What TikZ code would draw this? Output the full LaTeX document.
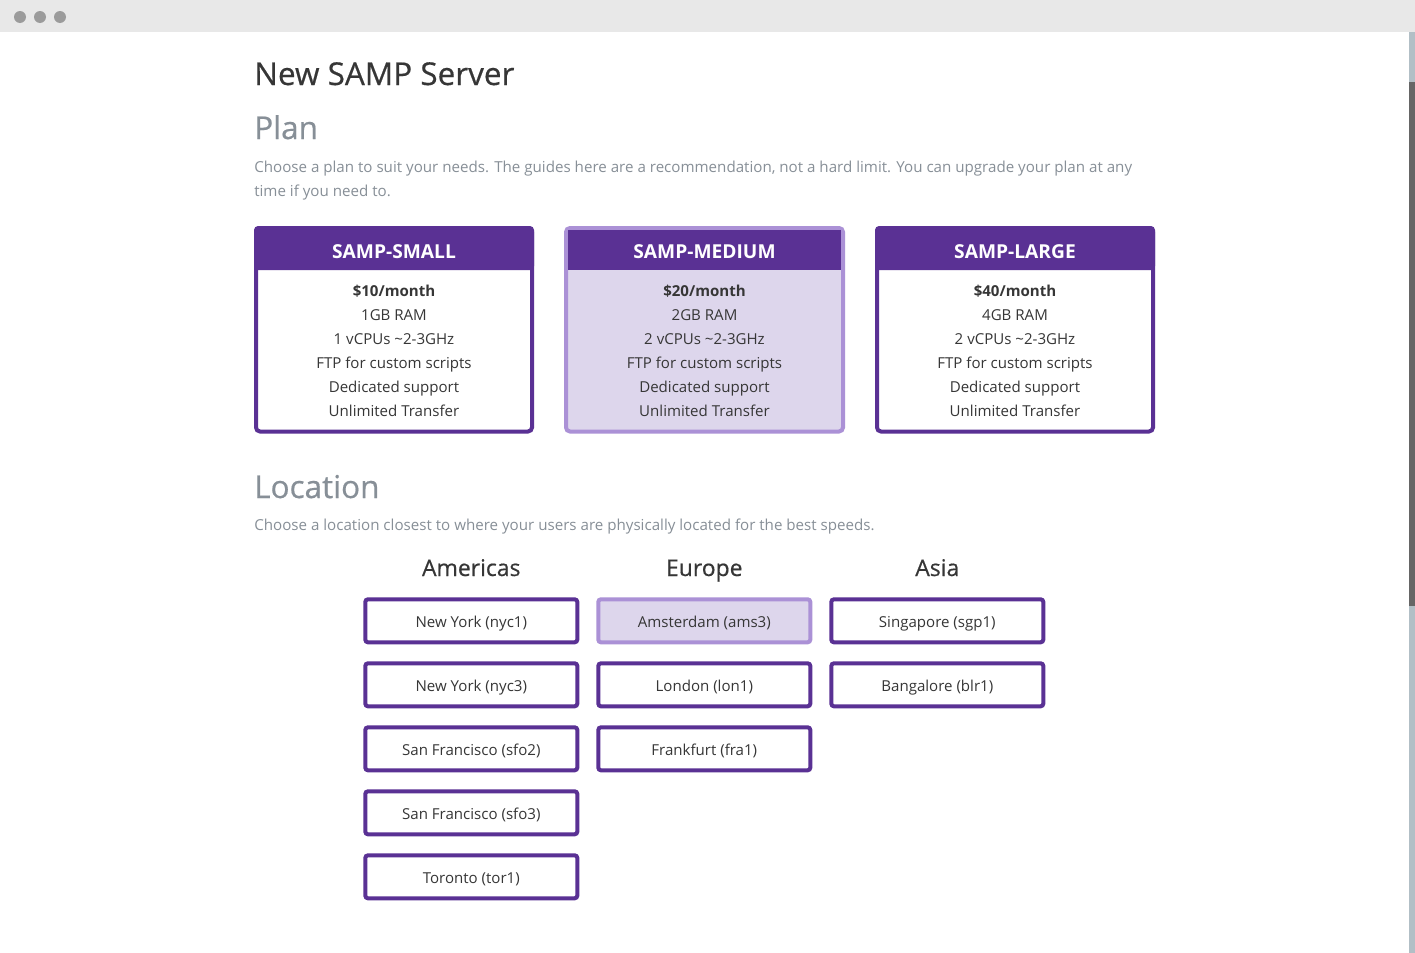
\documentclass[tikz,border=0pt]{standalone}
\usepackage{fontspec}
\setmainfont{Open Sans}
\newfontfamily\semifont{Open Sans}[FakeBold=0.5]
\usepackage{tikz}

\definecolor{sampPurple}{HTML}{5A3194}
\definecolor{sampLilac}{HTML}{AB91D6}
\definecolor{sampPale}{HTML}{DDD6EC}
\definecolor{inkDark}{HTML}{363636}
\definecolor{inkGray}{HTML}{878F97}
\definecolor{barGray}{HTML}{E8E8E8}
\definecolor{dotGray}{HTML}{9B9B9B}
\definecolor{trackGray}{HTML}{B2BFC6}
\definecolor{thumbGray}{HTML}{666666}

\begin{document}
\begin{tikzpicture}[x=0.75pt,y=-0.75pt,
  heading/.style={anchor=base west,inner sep=0pt,font=\semifont\fontsize{23.6}{28}\selectfont},
  para/.style={anchor=base west,inner sep=0pt,text=inkGray,font=\fontsize{11.35}{13}\selectfont},
  cardtitle/.style={anchor=base,inner sep=0pt,text=white,font=\bfseries\fontsize{14.4}{17}\selectfont},
  cardline/.style={anchor=base,inner sep=0pt,text=inkDark,font=\fontsize{11.3}{13}\selectfont},
  region/.style={anchor=base,inner sep=0pt,text=inkDark,font=\semifont\fontsize{17.2}{20}\selectfont},
  locbtn/.style={draw=sampPurple,line width=3pt,rounded corners=2pt,fill=white,
    minimum width=159pt,minimum height=32.25pt,inner sep=0pt,
    text height=10.5pt,text depth=0pt,text=inkDark,font=\fontsize{11.3}{13}\selectfont},
  locpicked/.style={locbtn,draw=sampLilac,fill=sampPale}]

% page size
\useasboundingbox (0,0) rectangle (1415,953);
\fill[white] (0,0) rectangle (1415,953);

% window bar
\fill[barGray] (0,0) rectangle (1415,32);
\fill[dotGray] (20,17) circle (4.5pt);
\fill[dotGray] (40,17) circle (4.5pt);
\fill[dotGray] (60,17) circle (4.5pt);

% scroll bar
\fill[trackGray] (1409,32) rectangle (1415,953);
\fill[thumbGray] (1409,82) rectangle (1415,606);

% title
\node[heading,text=inkDark] (title) at (254,85) {New SAMP Server};

% plan
\node[heading,text=inkGray] (plan) at (254,139) {Plan};
\node[para] (planA) at (254,172.5) {Choose a plan to suit your needs. The guides here are a recommendation, not a hard limit. You can upgrade your plan at any};
\node[para] (planB) at (254,196.5) {time if you need to.};

% SAMP-SMALL
\fill[sampPurple,rounded corners=3pt] (254,226) rectangle (534,270);
\draw[sampPurple,line width=3pt,rounded corners=3pt] (256,228) rectangle (532,431.5);
\node[cardtitle] (smallT) at (394,258) {SAMP-SMALL};
\node[cardline] (small1) at (394,296) {\bfseries \$10/month};
\node[cardline] (small2) at (394,320) {1GB RAM};
\node[cardline] (small3) at (394,344) {1 vCPUs \textasciitilde 2-3GHz};
\node[cardline] (small4) at (394,368) {FTP for custom scripts};
\node[cardline] (small5) at (394,392) {Dedicated support};
\node[cardline] (small6) at (394,416) {Unlimited Transfer};

% SAMP-MEDIUM (picked)
\draw[sampLilac,fill=sampPale,line width=3pt,rounded corners=3pt] (566,228) rectangle (843,431.5);
\fill[sampPurple] (568,230) rectangle (841,270);
\node[cardtitle] (mediumT) at (704.5,258) {SAMP-MEDIUM};
\node[cardline] (medium1) at (704.5,296) {\bfseries \$20/month};
\node[cardline] (medium2) at (704.5,320) {2GB RAM};
\node[cardline] (medium3) at (704.5,344) {2 vCPUs \textasciitilde 2-3GHz};
\node[cardline] (medium4) at (704.5,368) {FTP for custom scripts};
\node[cardline] (medium5) at (704.5,392) {Dedicated support};
\node[cardline] (medium6) at (704.5,416) {Unlimited Transfer};

% SAMP-LARGE
\fill[sampPurple,rounded corners=3pt] (875,226) rectangle (1155,270);
\draw[sampPurple,line width=3pt,rounded corners=3pt] (877,228) rectangle (1153,431.5);
\node[cardtitle] (largeT) at (1015,258) {SAMP-LARGE};
\node[cardline] (large1) at (1015,296) {\bfseries \$40/month};
\node[cardline] (large2) at (1015,320) {4GB RAM};
\node[cardline] (large3) at (1015,344) {2 vCPUs \textasciitilde 2-3GHz};
\node[cardline] (large4) at (1015,368) {FTP for custom scripts};
\node[cardline] (large5) at (1015,392) {Dedicated support};
\node[cardline] (large6) at (1015,416) {Unlimited Transfer};

% location
\node[heading,text=inkGray] (location) at (254,498) {Location};
\node[para] (locA) at (254,530) {Choose a location closest to where your users are physically located for the best speeds.};

% americas
\node[region] (americas) at (471.3,576) {Americas};
\node[locbtn] (nyc1) at (471.3,620.8) {New York (nyc1)};
\node[locbtn] (nyc3) at (471.3,684.8) {New York (nyc3)};
\node[locbtn] (sfo2) at (471.3,748.8) {San Francisco (sfo2)};
\node[locbtn] (sfo3) at (471.3,812.8) {San Francisco (sfo3)};
\node[locbtn] (tor1) at (471.3,876.8) {Toronto (tor1)};

% europe
\node[region] (europe) at (704.3,576) {Europe};
\node[locpicked] (ams3) at (704.3,620.8) {Amsterdam (ams3)};
\node[locbtn] (lon1) at (704.3,684.8) {London (lon1)};
\node[locbtn] (fra1) at (704.3,748.8) {Frankfurt (fra1)};

% asia
\node[region] (asia) at (937.3,576) {Asia};
\node[locbtn] (sgp1) at (937.3,620.8) {Singapore (sgp1)};
\node[locbtn] (blr1) at (937.3,684.8) {Bangalore (blr1)};

\end{tikzpicture}
\end{document}
